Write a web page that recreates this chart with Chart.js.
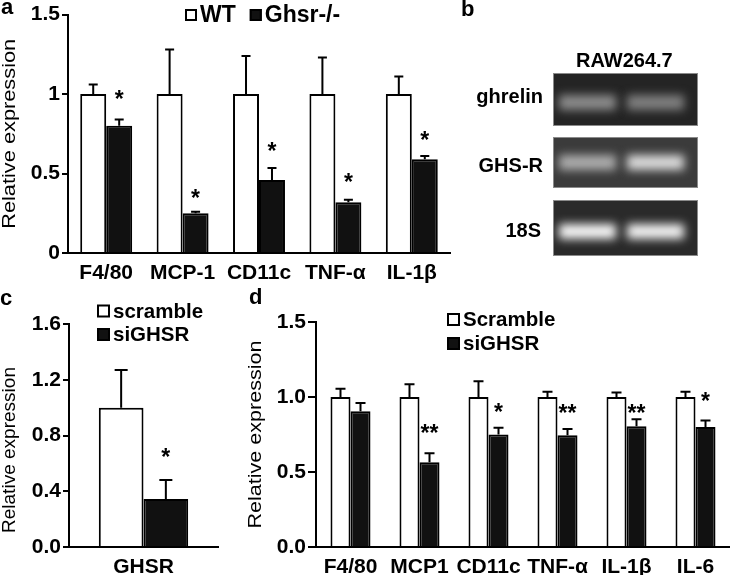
<!DOCTYPE html>
<html>
<head>
<meta charset="utf-8">
<script src="https://cdn.jsdelivr.net/npm/chart.js@4.4.1/dist/chart.umd.min.js"></script>
<style>
  body { margin: 0; background: #fff; }
  #fig { position: relative; width: 730px; height: 575px; overflow: hidden; font-family: "Liberation Sans", Arial, sans-serif; }
  .box { position: absolute; }
  .lbl { position: absolute; font-weight: bold; line-height: 1; color: #000; white-space: nowrap; }
</style>
</head>
<body>
<div id="fig">
  <div class="box" style="left:0;top:0;width:455px;height:290px"><canvas id="ca"></canvas></div>
  <canvas id="gel" width="275" height="290" style="position:absolute;left:455px;top:0"></canvas>
  <div class="box" style="left:0;top:290px;width:225px;height:285px"><canvas id="cc"></canvas></div>
  <div class="box" style="left:225px;top:290px;width:505px;height:285px"><canvas id="cd"></canvas></div>

  <div class="lbl" style="left:1px;top:-4px;font-size:22px">a</div>
  <div class="lbl" style="left:461px;top:-2px;font-size:22px">b</div>
  <div class="lbl" style="left:0px;top:287px;font-size:22px">c</div>
  <div class="lbl" style="left:249px;top:286px;font-size:22px">d</div>

  <div class="lbl" style="left:576px;top:50px;font-size:20px">RAW264.7</div>
  <div class="lbl" style="right:187px;top:86px;font-size:20px">ghrelin</div>
  <div class="lbl" style="right:187px;top:155px;font-size:20px">GHS-R</div>
  <div class="lbl" style="right:189px;top:220px;font-size:20px">18S</div>
</div>
<script>
// panel a: WT vs Ghsr-/-
const catsA = ["F4/80", "MCP-1", "CD11c", "TNF-α", "IL-1β"];
const wtA = [1, 1, 1, 1, 1];
const wtErrA = [1.06, 1.28, 1.24, 1.23, 1.11];
const koA = [0.80, 0.25, 0.46, 0.32, 0.59];
const koErrA = [0.84, 0.26, 0.535, 0.335, 0.61];
const starsA = ["*", "*", "*", "*", "*"];
const starYA = [1.0, 0.38, 0.675, 0.477, 0.74];

// panel c: scramble vs siGHSR
const catsC = ["GHSR"];
const scrC = [1.0];
const scrErrC = [1.27];
const siC = [0.345];
const siErrC = [0.48];
const starsC = ["*"];
const starYC = [0.683];

// panel d: Scramble vs siGHSR
const catsD = ["F4/80", "MCP1", "CD11c", "TNF-α", "IL-1β", "IL-6"];
const scrD = [1, 1, 1, 1, 1, 1];
const scrErrD = [1.055, 1.085, 1.105, 1.035, 1.03, 1.035];
const siD = [0.905, 0.565, 0.75, 0.745, 0.805, 0.80];
const siErrD = [0.96, 0.625, 0.795, 0.787, 0.852, 0.843];
const starsD = ["", "**", "*", "**", "**", "*"];
const starYD = [0, 0.792, 0.936, 0.926, 0.926, 1.008];

// panel b: gel band brightness (lane 1, lane 2)
const gelRows = ["ghrelin", "GHS-R", "18S"];
const gelBands = [[0.55, 0.50], [0.68, 0.86], [0.97, 0.95]];

const fam = '"Liberation Sans", Arial, sans-serif';
Chart.defaults.font.family = fam;
Chart.defaults.color = "#000";

// error bars + asterisks
const errorBars = {
    id: "errorBars",
    afterDatasetsDraw(chart, args, o) {
        const ctx = chart.ctx, y = chart.scales.y;
        chart.data.datasets.forEach((ds, i) => {
            const meta = chart.getDatasetMeta(i);
            meta.data.forEach((bar, j) => {
                const top = y.getPixelForValue(ds.errTop[j]);
                ctx.save();
                ctx.strokeStyle = "#000";
                ctx.lineWidth = 2;
                ctx.beginPath();
                ctx.moveTo(bar.x, bar.y);
                ctx.lineTo(bar.x, top);
                ctx.moveTo(bar.x - o.cap / 2, top);
                ctx.lineTo(bar.x + o.cap / 2, top);
                ctx.stroke();
                if (ds.stars && ds.stars[j]) {
                    ctx.font = "bold 23px " + fam;
                    ctx.fillStyle = "#000";
                    ctx.textAlign = "center";
                    ctx.textBaseline = "alphabetic";
                    ctx.fillText(ds.stars[j], bar.x, y.getPixelForValue(ds.starY[j]) + 13);
                }
                ctx.restore();
            });
        });
    }
};

// legend with open / filled squares
const boxLegend = {
    id: "boxLegend",
    afterDraw(chart, args, o) {
        const ctx = chart.ctx;
        ctx.save();
        ctx.font = "bold " + o.size + "px " + fam;
        ctx.textBaseline = "middle";
        let x = o.x, y = o.y;
        chart.data.datasets.forEach(ds => {
            ctx.fillStyle = ds.backgroundColor;
            ctx.fillRect(x, y - o.box / 2, o.box, o.box);
            ctx.strokeStyle = "#000";
            ctx.lineWidth = 2;
            ctx.strokeRect(x + 1, y - o.box / 2 + 1, o.box - 2, o.box - 2);
            ctx.fillStyle = "#000";
            ctx.fillText(ds.label, x + o.box + 3, y + 1);
            if (o.inline) x += o.box + 3 + ctx.measureText(ds.label).width + o.gap;
            else y += o.row;
        });
        ctx.restore();
    }
};

// stretched y title (the original figure is scaled vertically)
const yTitle = {
    id: "yTitle",
    afterDraw(chart, args, o) {
        const ctx = chart.ctx, a = chart.chartArea;
        ctx.save();
        ctx.font = o.size + "px " + fam;
        ctx.fillStyle = "#000";
        ctx.textAlign = "center";
        ctx.textBaseline = "middle";
        const w = ctx.measureText(o.text).width;
        ctx.translate(o.x, o.y != null ? o.y : (a.top + a.bottom) / 2);
        ctx.rotate(-Math.PI / 2);
        ctx.scale(o.length / w, 1);
        ctx.fillText(o.text, 0, 0);
        ctx.restore();
    }
};

function makeChart(id, cfg) {
    const datasets = [
        { label: cfg.names[0], data: cfg.open, errTop: cfg.openErr, backgroundColor: "#fff",
          borderColor: "#000", borderWidth: 2, barPercentage: 1, categoryPercentage: cfg.catPct },
        { label: cfg.names[1], data: cfg.filled, errTop: cfg.filledErr, stars: cfg.stars, starY: cfg.starY,
          backgroundColor: "#111", borderColor: "#000", borderWidth: 2, barPercentage: 1, categoryPercentage: cfg.catPct }
    ];
    return new Chart(document.getElementById(id), {
        type: "bar",
        data: { labels: cfg.labels, datasets: datasets },
        options: {
            responsive: true,
            maintainAspectRatio: false,
            animation: false,
            layout: { padding: cfg.padding },
            plugins: {
                legend: { display: false },
                tooltip: { enabled: false },
                errorBars: { cap: cfg.cap },
                boxLegend: cfg.legend,
                yTitle: cfg.title
            },
            scales: {
                x: {
                    afterFit: s => { s.height = cfg.xH; },
                    grid: { display: false, drawTicks: false },
                    border: { color: "#000", width: 2 },
                    ticks: { autoSkip: false, maxRotation: 0, padding: 8, font: { size: 21, weight: "bold" } }
                },
                y: {
                    min: 0,
                    max: cfg.max,
                    afterFit: s => { s.width = cfg.yW; },
                    grid: { drawOnChartArea: false, drawTicks: true, tickLength: cfg.tick, color: "#000", lineWidth: 2 },
                    border: { color: "#000", width: 2 },
                    ticks: { stepSize: cfg.step, padding: 2, font: { size: 21, weight: "bold" }, callback: cfg.fmt }
                }
            }
        },
        plugins: [errorBars, boxLegend, yTitle]
    });
}

makeChart("ca", {
    labels: catsA, names: ["WT", "Ghsr-/-"],
    open: wtA, openErr: wtErrA, filled: koA, filledErr: koErrA, stars: starsA, starY: starYA,
    catPct: 0.68, cap: 9, max: 1.5, step: 0.5, fmt: v => String(v),
    padding: { top: 13, right: 5, left: 0, bottom: 0 }, xH: 37, yW: 68, tick: 6,
    legend: { x: 185, y: 15, box: 12, size: 23, inline: true, gap: 14 },
    title: { text: "Relative expression", size: 19, x: 10, length: 190 }
});

makeChart("cc", {
    labels: catsC, names: ["scramble", "siGHSR"],
    open: scrC, openErr: scrErrC, filled: siC, filledErr: siErrC, stars: starsC, starY: starYC,
    catPct: 0.6, cap: 13, max: 1.6, step: 0.4, fmt: v => v.toFixed(1),
    padding: { top: 34, right: 7, left: 0, bottom: 0 }, xH: 28, yW: 69, tick: 6,
    legend: { x: 97, y: 21, box: 13, size: 20.5, inline: false, row: 23.5 },
    title: { text: "Relative expression", size: 19, x: 10, y: 160, length: 166 }
});

makeChart("cd", {
    labels: catsD, names: ["Scramble", "siGHSR"],
    open: scrD, openErr: scrErrD, filled: siD, filledErr: siErrD, stars: starsD, starY: starYD,
    catPct: 0.58, cap: 10, max: 1.5, step: 0.5, fmt: v => v.toFixed(1),
    padding: { top: 32, right: 0, left: 0, bottom: 0 }, xH: 28, yW: 91, tick: 8,
    legend: { x: 222, y: 29.5, box: 13, size: 20.5, inline: false, row: 24 },
    title: { text: "Relative expression", size: 19, x: 31, length: 188 }
});

// panel b: gel picture
const g = document.getElementById("gel").getContext("2d");
const rowBox = [[73, 126], [137, 188], [200, 256]];
const bandY = [102, 162, 231];
const lanes = [[104, 161], [172, 229]];
const gelBg = ["#242424", "#3b3b3b", "#2a2a2a"];
gelRows.forEach((name, r) => {
    const [t, b] = rowBox[r];
    g.fillStyle = gelBg[r];
    g.fillRect(98, t, 145, b - t);
    g.strokeStyle = "#8a8a8a";
    g.lineWidth = 1;
    g.strokeRect(98.5, t + 0.5, 144, b - t - 1);
    gelBands[r].forEach((v, l) => {
        const c = Math.round(255 * v);
        g.save();
        g.beginPath();
        g.rect(99, t + 1, 143, b - t - 2);
        g.clip();
        g.filter = "blur(5px)";
        g.fillStyle = "rgb(" + c + "," + c + "," + c + ")";
        g.fillRect(lanes[l][0], bandY[r] - 7, lanes[l][1] - lanes[l][0], 15);
        g.restore();
    });
});
</script>
</body>
</html>
